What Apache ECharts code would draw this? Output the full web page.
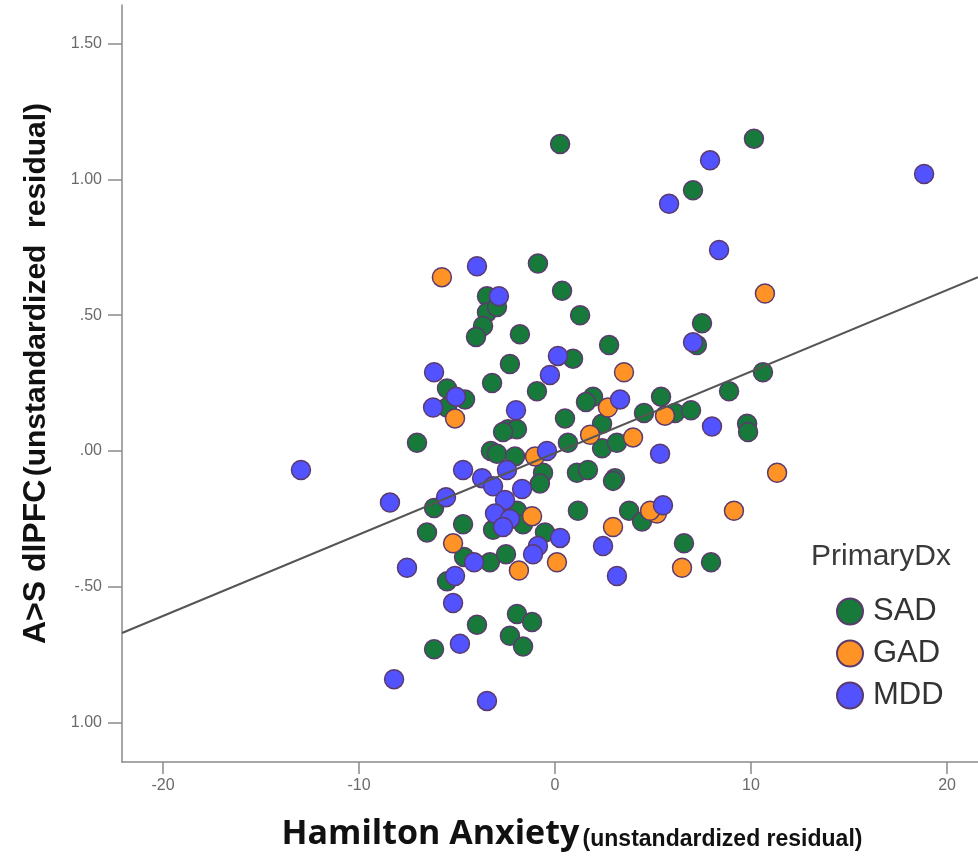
<!DOCTYPE html>
<html>
<head>
<meta charset="utf-8">
<script src="https://cdn.jsdelivr.net/npm/echarts@6/dist/echarts.min.js"></script>
<style>html,body{margin:0;padding:0;background:#fff;}#chart{width:978px;height:863px;}</style>
</head>
<body>
<div id="chart"></div>
<script>
const categories = ["SAD", "GAD", "MDD"];
const sadX = [0.26, 10.15, 7.04, -0.87, 0.36, 1.28, 2.76, -3.47, -3.47, -2.96, -3.67, -4.03, -1.79, -2.30, -3.21, -0.92, 0.92, -5.51, -4.59, -5.51, -7.04, -2.40, -1.94, -2.65, -3.27, -2.96, -2.04, 1.94, 1.58, 5.41, 4.54, 6.12, 6.94, 0.51, 2.40, 0.66, 2.40, 3.16, -0.61, 1.12, 1.68, 3.06, 7.50, 7.24, 10.61, 8.88, 9.80, 9.85, -6.17, -6.53, -4.69, -4.64, -3.32, -2.50, -5.51, -0.77, -1.94, -3.16, -1.63, -0.51, 1.17, 2.96, 3.78, 4.44, 6.58, 7.96, -3.98, -6.17, -1.94, -1.17, -2.30, -1.63];
const sadY = [1.13, 1.15, 0.96, 0.69, 0.59, 0.50, 0.39, 0.57, 0.51, 0.53, 0.46, 0.42, 0.43, 0.32, 0.25, 0.22, 0.34, 0.23, 0.19, 0.16, 0.03, 0.08, 0.08, 0.07, 0.00, -0.01, -0.02, 0.20, 0.18, 0.20, 0.14, 0.14, 0.15, 0.12, 0.10, 0.03, 0.01, 0.03, -0.08, -0.08, -0.07, -0.10, 0.47, 0.39, 0.29, 0.22, 0.10, 0.07, -0.21, -0.30, -0.27, -0.39, -0.41, -0.38, -0.48, -0.12, -0.22, -0.29, -0.27, -0.30, -0.22, -0.11, -0.22, -0.26, -0.34, -0.41, -0.64, -0.73, -0.60, -0.63, -0.68, -0.72];
const gadX = [-5.77, -5.10, -1.02, 10.71, 3.52, 2.70, 5.61, 1.79, 3.98, 11.33, -5.20, -1.84, -1.17, 2.96, 5.20, 0.10, 9.13, 6.48, 4.85];
const gadY = [0.64, 0.12, -0.02, 0.58, 0.29, 0.16, 0.13, 0.06, 0.05, -0.08, -0.34, -0.44, -0.24, -0.28, -0.23, -0.41, -0.22, -0.43, -0.22];
const mddX = [-3.98, -2.86, 0.15, -0.26, -6.17, -5.05, -6.22, -1.99, -4.69, -3.72, -2.45, -0.41, 8.37, 7.04, 8.01, 3.32, 5.36, -12.96, -8.42, -5.56, -4.13, -3.16, -1.68, -2.55, -3.06, -2.30, -2.65, 0.26, -0.87, -1.12, -7.55, -5.10, -5.20, -4.85, -8.21, -3.47, 5.51, 2.45, 3.16, 7.91, 5.82, 18.83];
const mddY = [0.68, 0.57, 0.35, 0.28, 0.29, 0.20, 0.16, 0.15, -0.07, -0.10, -0.07, 0.00, 0.74, 0.40, 0.09, 0.19, -0.01, -0.07, -0.19, -0.17, -0.41, -0.13, -0.14, -0.18, -0.23, -0.25, -0.28, -0.32, -0.35, -0.38, -0.43, -0.46, -0.56, -0.71, -0.84, -0.92, -0.20, -0.35, -0.46, 1.07, 0.91, 1.02];
const fitX = [-22.09, 21.58];
const fitY = [-0.67, 0.64];
const xTickValues = [-20, -10, 0, 10, 20];
const xTickLabels = ["-20", "-10", "0", "10", "20"];
const yTickValues = [-1, -0.5, 0, 0.5, 1, 1.5];
const yTickLabels = ["1.00", "-.50", ".00", ".50", "1.00", "1.50"];

const zip = (xs, ys) => xs.map((x, i) => [x, ys[i]]);
const colors = ["#17793a", "#ff9326", "#5252ff"];
const seriesData = [zip(sadX, sadY), zip(gadX, gadY), zip(mddX, mddY)];

const chart = echarts.init(document.getElementById('chart'), null, {renderer: 'canvas'});
const narrow = "'Liberation Sans Narrow', 'Liberation Sans', Arial, sans-serif";
const sans = "'Liberation Sans', Arial, sans-serif";
chart.setOption({
  backgroundColor: '#ffffff',
  animation: false,
  title: {
    text: 'PrimaryDx',
    left: 806, top: 537,
    textStyle: {fontFamily: sans, fontSize: 30, fontWeight: 'normal', color: '#3a3a3a'}
  },
  legend: {
    data: categories,
    orient: 'vertical',
    left: 831, top: 591,
    icon: 'circle',
    itemWidth: 36, itemHeight: 26, itemGap: 11,
    textStyle: {fontFamily: sans, fontSize: 31, color: '#333', lineHeight: 26}
  },
  grid: {left: 122, right: 0, top: 5, bottom: 101, containLabel: false},
  xAxis: {
    type: 'value',
    min: fitX[0], max: fitX[1],
    splitLine: {show: false},
    axisLine: {show: true, onZero: false, lineStyle: {color: '#8a8a8a', width: 1.5}},
    axisTick: {show: true, length: 12, customValues: xTickValues, lineStyle: {color: '#8a8a8a', width: 1.5}},
    axisLabel: {customValues: xTickValues, margin: 16, fontFamily: sans, fontSize: 16, color: '#6a6a6a',
      formatter: v => xTickLabels[xTickValues.indexOf(v)] ?? ''},
    name: '{a|Hamilton Anxiety} {b|(unstandardized residual)}',
    nameLocation: 'middle', nameGap: 53,
    nameTextStyle: {
      padding: [0, 0, 0, 44],
      rich: {
        a: {fontFamily: "'Open Sans', sans-serif", fontWeight: 'bold', fontSize: 34, color: '#111', verticalAlign: 'bottom', lineHeight: 36},
        b: {fontFamily: narrow, fontWeight: 'bold', fontSize: 23, color: '#111', verticalAlign: 'bottom', lineHeight: 31}
      }
    }
  },
  yAxis: {
    type: 'value',
    min: -1.145, max: 1.642,
    splitLine: {show: false},
    axisLine: {show: true, onZero: false, lineStyle: {color: '#8a8a8a', width: 1.5}},
    axisTick: {show: true, length: 14, customValues: yTickValues, lineStyle: {color: '#8a8a8a', width: 1.5}},
    axisLabel: {customValues: yTickValues, margin: 20, fontFamily: sans, fontSize: 16, color: '#6a6a6a',
      formatter: v => yTickLabels[yTickValues.indexOf(v)] ?? ''},
    name: '{a|A>S dlPFC} {b|(unstandardized  residual)}',
    nameLocation: 'middle', nameGap: 70,
    nameTextStyle: {
      padding: [0, 0, 0, 20],
      rich: {
        a: {fontFamily: sans, fontWeight: 'bold', fontSize: 32, color: '#111', verticalAlign: 'bottom', lineHeight: 34},
        b: {fontFamily: narrow, fontWeight: 'bold', fontSize: 30, color: '#111', verticalAlign: 'bottom', lineHeight: 33}
      }
    }
  },
  series: [
    ...categories.map((name, i) => ({
      name, type: 'scatter', data: seriesData[i], symbolSize: 19, z: 2 + i,
      itemStyle: {color: colors[i], borderColor: '#5b3a6e', borderWidth: 1.5, opacity: 1}
    })),
    {
      name: 'fit', type: 'line', data: zip(fitX, fitY), symbol: 'none', z: 10,
      lineStyle: {color: '#555', width: 2}, silent: true
    }
  ]
});
</script>
</body>
</html>
